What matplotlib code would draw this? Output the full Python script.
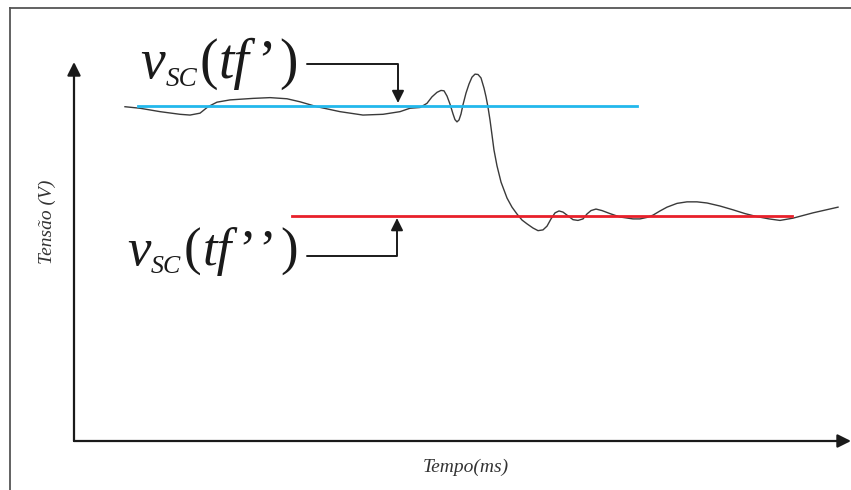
import matplotlib
matplotlib.use('Agg')
import matplotlib.pyplot as plt
from matplotlib.lines import Line2D

plt.rcParams['font.family'] = ['Liberation Serif', 'DejaVu Serif']

# tensao no supercapacitor (unidades arbitrarias)
tempo = [6.56, 8.49, 11.07, 13.64, 14.93, 16.22, 17.25, 18.40, 20.08, 23.04,
         25.23, 27.41, 29.09, 31.27, 34.23, 37.19, 39.77, 41.96, 43.24, 44.53,
         45.43, 46.07, 46.72, 47.23, 47.62, 48.01, 48.39, 48.78, 49.03, 49.29,
         49.55, 49.81, 50.06, 50.45, 50.84, 51.22, 51.61, 52.00, 52.38, 52.77,
         53.03, 53.28, 53.54, 53.80, 54.05, 54.44, 54.96, 55.73, 56.37, 57.01,
         57.66, 58.30, 59.07, 59.72, 60.36, 60.88, 61.39, 61.91, 62.42, 62.93,
         63.58, 64.22, 64.86, 65.51, 66.02, 66.54, 67.18, 67.95, 68.98, 70.27,
         71.94, 72.84, 73.75, 74.52, 75.42, 76.32, 77.61, 78.89, 80.18, 81.47,
         83.14, 84.81, 86.36, 87.90, 89.45, 90.86, 92.54, 95.11, 98.33]
tensao = [8.82, 8.78, 8.69, 8.62, 8.60, 8.65, 8.82, 8.94, 9.00, 9.04,
          9.06, 9.03, 8.95, 8.82, 8.69, 8.60, 8.62, 8.69, 8.78, 8.80,
          8.91, 9.08, 9.20, 9.25, 9.24, 9.10, 8.89, 8.63, 8.48, 8.42,
          8.47, 8.63, 8.87, 9.18, 9.42, 9.60, 9.68, 9.67, 9.58, 9.31,
          9.08, 8.81, 8.47, 8.07, 7.68, 7.26, 6.83, 6.41, 6.17, 5.99,
          5.83, 5.73, 5.62, 5.55, 5.57, 5.67, 5.86, 6.02, 6.07, 6.04,
          5.94, 5.84, 5.82, 5.86, 5.99, 6.08, 6.12, 6.08, 6.00, 5.91,
          5.86, 5.86, 5.90, 5.96, 6.07, 6.17, 6.27, 6.31, 6.31, 6.28,
          6.20, 6.10, 6.00, 5.92, 5.86, 5.82, 5.88, 6.02, 6.17]

# niveis de referencia
v_tf1 = 8.85
v_tf2 = 5.94
t_tf1 = [8.24, 72.46]
t_tf2 = [28.06, 92.41]

fig = plt.figure(figsize=(8.51, 4.90), dpi=100)
ax = fig.add_axes([74 / 851, 49 / 490, 777 / 851, 379 / 490])
ax.set_xlim(0, 100)
ax.set_ylim(0, 10)
ax.axis('off')

# moldura recortada (topo e esquerda)
fig.add_artist(Line2D([10 / 851, 1], [1 - 8 / 490] * 2, color='#555555', lw=1.3))
fig.add_artist(Line2D([10 / 851] * 2, [0, 1 - 8 / 490], color='#555555', lw=1.3))

# eixos com setas
axis_arrow = dict(arrowstyle='-|>', lw=1.6, color='#1a1a1a',
                  mutation_scale=20, shrinkA=0, shrinkB=0)
ax.annotate('', xy=(0, 10), xytext=(0, 0), arrowprops=axis_arrow,
            annotation_clip=False)
ax.annotate('', xy=(100, 0), xytext=(0, 0), arrowprops=axis_arrow,
            annotation_clip=False)

ax.plot(tempo, tensao, color='#3a3a3a', lw=1.0, zorder=2)
ax.plot(t_tf1, [v_tf1, v_tf1], color='#22b8ec', lw=2.0, zorder=3)
ax.plot(t_tf2, [v_tf2, v_tf2], color='#e8202a', lw=2.0, zorder=3)


def vsc_label(x, y, fs, n_quotes):
    # v_SC(tf'...) montado peca a peca para controlar subscrito e espacos
    kw = dict(color='#1a1a1a', va='baseline', textcoords='offset points',
              annotation_clip=False)
    prev = ax.text(x, y, 'v', fontsize=fs, style='italic', ha='left',
                   va='baseline', color='#1a1a1a')
    pieces = [('SC', 0.49 * fs, 'italic', 0.5, -0.15 * fs),
              ('(', fs, 'normal', 1.5, 0),
              ('tf', fs, 'italic', 1.0, 0)]
    pieces += [('\u2019', fs, 'normal', 5.0 if i == 0 else 1.5, 0)
               for i in range(n_quotes)]
    pieces += [(')', fs, 'normal', 3.0, 0)]
    for s, size, style, dx, dy in pieces:
        prev = ax.annotate(s, xy=(1, y), xycoords=(prev, 'data'),
                           xytext=(dx, dy), fontsize=size, style=style, **kw)


lab_arrow = dict(arrowstyle='-|>', lw=1.4, color='#1a1a1a', mutation_scale=18,
                 shrinkA=0, shrinkB=0,
                 connectionstyle='angle,angleA=0,angleB=90,rad=0')

vsc_label(8.49, 9.58, 40, 1)
ax.annotate('', xy=(41.70, 8.92), xytext=(30.0, 9.95),
            arrowprops=lab_arrow, annotation_clip=False)

vsc_label(6.82, 4.64, 38, 2)
ax.annotate('', xy=(41.57, 5.88), xytext=(30.0, 4.88),
            arrowprops=lab_arrow, annotation_clip=False)

fig.text(47 / 851, 1 - 222 / 490, 'Tensão (V)', rotation=90, fontsize=14,
         style='italic', ha='center', va='center', color='#333333')
fig.text(466 / 851, 1 - 467 / 490, 'Tempo(ms)', fontsize=14,
         style='italic', ha='center', va='center', color='#333333')

fig.savefig('out.png', dpi=100)
